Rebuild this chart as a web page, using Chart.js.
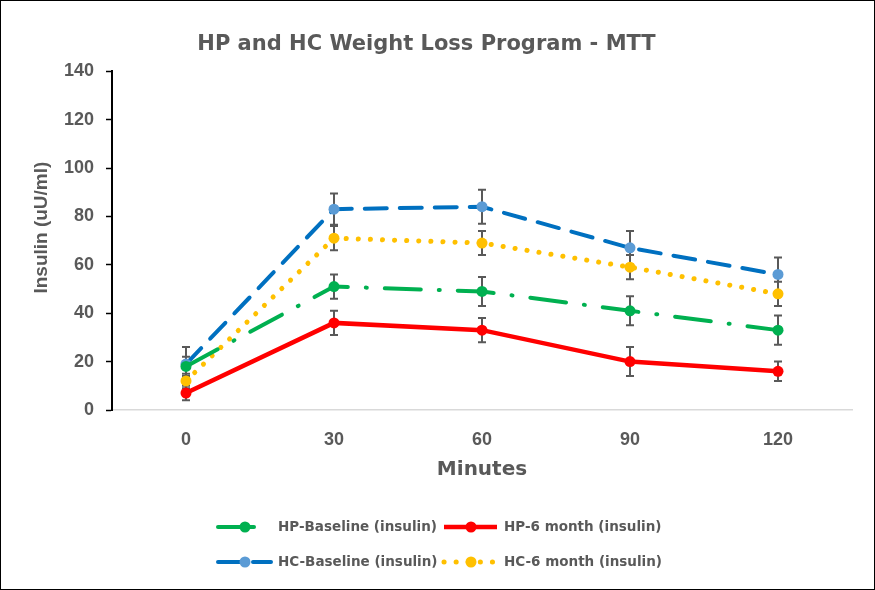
<!DOCTYPE html>
<html>
<head>
<meta charset="utf-8">
<script src="https://cdn.jsdelivr.net/npm/chart.js@4.4.1/dist/chart.umd.min.js"></script>
<style>
  body { margin: 0; background: #fff; }
  #wrap { width: 873px; height: 588px; border: 1px solid #000; }
</style>
</head>
<body>
<div id="wrap"><canvas id="chart" width="873" height="588"></canvas></div>
<script>
// data
const minutes = ["0", "30", "60", "90", "120"];

const hpBaseline = [18, 51, 49, 41, 33];
const hpBaselineErr = [4, 5, 6, 6, 6];

const hp6Month = [7, 36, 33, 20, 16];
const hp6MonthErr = [3, 5, 5, 6, 4];

const hcBaseline = [19, 83, 84, 67, 56];
const hcBaselineErr = [7, 6.5, 7, 7, 7];

const hc6Month = [12, 71, 69, 59, 48];
const hc6MonthErr = [3, 5, 5, 5, 5];

const yTicks = [0, 20, 40, 60, 80, 100, 120, 140];

const grey = "#595959";
const wide = "'DejaVu Sans', Verdana, sans-serif";
const arial = "'Liberation Sans', Arial, sans-serif";

// error bars, drawn from the y scale
const errorBars = {
  id: "errorBars",
  beforeDatasetsDraw(chart) {
    const ctx = chart.ctx;
    const y = chart.scales.y;
    ctx.save();
    ctx.strokeStyle = grey;
    ctx.lineWidth = 2;
    chart.data.datasets.forEach((ds, i) => {
      const meta = chart.getDatasetMeta(i);
      meta.data.forEach((pt, j) => {
        const v = ds.data[j];
        const e = ds.errors[j];
        const top = y.getPixelForValue(v + e);
        const bot = y.getPixelForValue(v - e);
        ctx.beginPath();
        ctx.moveTo(pt.x, top);
        ctx.lineTo(pt.x, bot);
        ctx.moveTo(pt.x - 4, top);
        ctx.lineTo(pt.x + 4, top);
        ctx.moveTo(pt.x - 4, bot);
        ctx.lineTo(pt.x + 4, bot);
        ctx.stroke();
      });
    });
    ctx.restore();
  },
};

// y title sits a bit above the middle of the plot in the original
const yTitle = {
  id: "yTitle",
  afterDraw(chart) {
    const ctx = chart.ctx;
    const a = chart.chartArea;
    ctx.save();
    ctx.translate(41, (a.top + a.bottom) / 2 - 13);
    ctx.rotate(-Math.PI / 2);
    ctx.fillStyle = grey;
    ctx.font = "bold 19px " + arial;
    ctx.textAlign = "center";
    ctx.textBaseline = "middle";
    ctx.fillText("Insulin (uU/ml)", 0, 0);
    ctx.restore();
  },
};

// legend: two columns, line + marker + text
const excelLegend = {
  id: "excelLegend",
  afterDraw(chart) {
    const ctx = chart.ctx;
    const slots = [
      [217, 526],
      [443, 526],
      [217, 561],
      [443, 561],
    ];
    ctx.save();
    chart.data.datasets.forEach((ds, i) => {
      const [x0, yy] = slots[i];
      ctx.strokeStyle = ds.borderColor;
      ctx.lineWidth = ds.borderWidth;
      ctx.lineCap = ds.borderCapStyle || "butt";
      ctx.setLineDash(ds.borderDash || []);
      ctx.beginPath();
      ctx.moveTo(x0, yy);
      ctx.lineTo(x0 + 53, yy);
      ctx.stroke();
      ctx.setLineDash([]);
      ctx.fillStyle = ds.pointBackgroundColor;
      ctx.beginPath();
      ctx.arc(x0 + 27, yy, 5.5, 0, Math.PI * 2);
      ctx.fill();
      ctx.fillStyle = grey;
      ctx.font = "bold 13.5px " + wide;
      ctx.textBaseline = "middle";
      ctx.fillText(ds.label, x0 + 60, yy);
    });
    ctx.restore();
  },
};

new Chart(document.getElementById("chart"), {
  type: "line",
  data: {
    labels: minutes,
    datasets: [
      {
        label: "HP-Baseline (insulin)",
        data: hpBaseline,
        errors: hpBaselineErr,
        borderColor: "#00B050",
        pointBackgroundColor: "#00B050",
        borderWidth: 4,
        borderDash: [36, 18, 1, 18],
        borderCapStyle: "round",
      },
      {
        label: "HP-6 month (insulin)",
        data: hp6Month,
        errors: hp6MonthErr,
        borderColor: "#FF0000",
        pointBackgroundColor: "#FF0000",
        borderWidth: 4.5,
      },
      {
        label: "HC-Baseline (insulin)",
        data: hcBaseline,
        errors: hcBaselineErr,
        borderColor: "#0070C0",
        pointBackgroundColor: "#5B9BD5",
        borderWidth: 4,
        borderDash: [22, 13],
        borderCapStyle: "round",
      },
      {
        label: "HC-6 month (insulin)",
        data: hc6Month,
        errors: hc6MonthErr,
        borderColor: "#FFC000",
        pointBackgroundColor: "#FFC000",
        borderWidth: 5,
        borderDash: [0.1, 12],
        borderCapStyle: "round",
      },
    ].map((d) => ({
      ...d,
      pointBorderWidth: 0,
      pointRadius: 5.5,
      pointHoverRadius: 5.5,
      tension: 0,
      fill: false,
    })),
  },
  options: {
    responsive: false,
    animation: false,
    layout: { padding: { left: 0, right: 22, top: 0, bottom: 99 } },
    plugins: {
      legend: { display: false },
      tooltip: { enabled: false },
      title: {
        display: true,
        text: "HP and HC Weight Loss Program - MTT",
        color: grey,
        font: { family: wide, size: 21, weight: "bold" },
        padding: { top: 31, bottom: 14 },
      },
    },
    scales: {
      x: {
        offset: true,
        grid: { display: true, drawOnChartArea: false, drawTicks: false },
        border: { color: "#D9D9D9", width: 1.5 },
        ticks: {
          color: grey,
          padding: 19,
          font: { family: arial, size: 18, weight: "bold" },
        },
        title: {
          display: true,
          text: "Minutes",
          color: grey,
          font: { family: wide, size: 20, weight: "bold" },
          padding: { top: 0, bottom: 8 },
        },
        afterFit: (s) => { s.height = 80; },
      },
      y: {
        min: 0,
        max: 140,
        afterBuildTicks: (s) => { s.ticks = yTicks.map((v) => ({ value: v })); },
        grid: { display: true, drawOnChartArea: false, tickLength: 6, color: "#000", tickWidth: 1.5 },
        border: { color: "#000", width: 2 },
        ticks: {
          color: grey,
          padding: 12,
          font: { family: arial, size: 18, weight: "bold" },
        },
        title: { display: false },
        afterFit: (s) => { s.width = 111; },
      },
    },
  },
  plugins: [errorBars, yTitle, excelLegend],
});
</script>
</body>
</html>
